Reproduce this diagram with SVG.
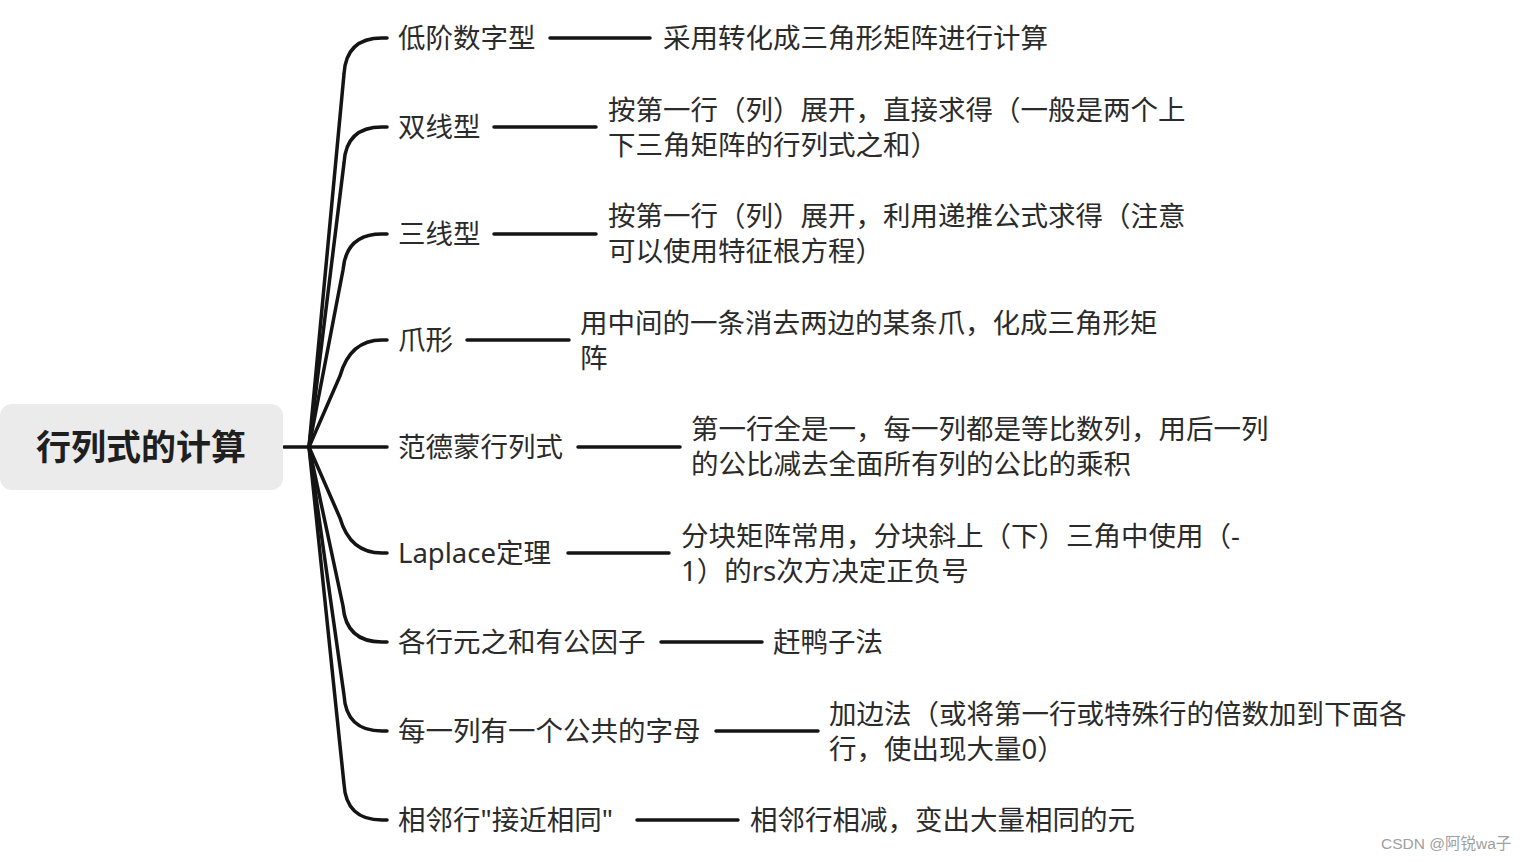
<svg xmlns="http://www.w3.org/2000/svg" width="1529" height="862" viewBox="0 0 1529 862">
<style>
.t{font-family:"Noto Sans","Noto Sans CJK SC",sans-serif;font-size:27.5px;fill:#2b2b2b}
.r{font-family:"Noto Sans CJK SC",sans-serif;font-size:35px;font-weight:bold;fill:#1f1f1f}
.c{fill:none;stroke:#141414;stroke-width:3.5;stroke-linecap:round}
.w{font-family:"Liberation Sans","Noto Sans CJK SC",sans-serif;font-size:15.5px;fill:#a0a0a0}
</style>
<rect width="1529" height="862" fill="#ffffff"/>
<g id="connectors">
<path class="c" d="M284,447 H309"/>
<path class="c" d="M309,447 L344,74 Q346,38 382,38 H387"/>
<path class="c" d="M309,447 L344,163 Q346,127 382,127 H387"/>
<path class="c" d="M309,447 L343,270 Q346,234 382,234 H387"/>
<path class="c" d="M309,447 L340,376 Q350,340 382,340 H387"/>
<path class="c" d="M309,447 H387"/>
<path class="c" d="M309,447 L340,518 Q350,553 382,553 H387"/>
<path class="c" d="M309,447 L343,606 Q346,642 382,642 H387"/>
<path class="c" d="M309,447 L344,695 Q346,731 382,731 H387"/>
<path class="c" d="M309,447 L344,784 Q346,820 382,820 H387"/>
<path class="c" d="M550,38 H650"/>
<path class="c" d="M494,127 H596"/>
<path class="c" d="M494,234 H596"/>
<path class="c" d="M467,340 H569"/>
<path class="c" d="M578,447 H680"/>
<path class="c" d="M568,553 H669"/>
<path class="c" d="M661,642 H762"/>
<path class="c" d="M716,731 H818"/>
<path class="c" d="M637,820 H738"/>
</g>
<g id="root">
<rect x="0" y="404" width="283" height="86" rx="12" fill="#ebebeb"/>
<text class="r" x="141" y="460" text-anchor="middle">行列式的计算</text>
</g>
<g id="n1"><text class="t" x="398" y="48">低阶数字型</text></g>
<g id="n1a"><text class="t" x="663" y="48">采用转化成三角形矩阵进行计算</text></g>
<g id="n2"><text class="t" x="398" y="137">双线型</text></g>
<g id="n2a"><text class="t" x="608" y="120">按第一行（列）展开，直接求得（一般是两个上</text><text class="t" x="608" y="155">下三角矩阵的行列式之和）</text></g>
<g id="n3"><text class="t" x="398" y="244">三线型</text></g>
<g id="n3a"><text class="t" x="608" y="226">按第一行（列）展开，利用递推公式求得（注意</text><text class="t" x="608" y="261">可以使用特征根方程）</text></g>
<g id="n4"><text class="t" x="398" y="350">爪形</text></g>
<g id="n4a"><text class="t" x="580" y="333">用中间的一条消去两边的某条爪，化成三角形矩</text><text class="t" x="580" y="368">阵</text></g>
<g id="n5"><text class="t" x="398" y="457">范德蒙行列式</text></g>
<g id="n5a"><text class="t" x="691" y="439">第一行全是一，每一列都是等比数列，用后一列</text><text class="t" x="691" y="474">的公比减去全面所有列的公比的乘积</text></g>
<g id="n6"><text class="t" x="398" y="563">Laplace定理</text></g>
<g id="n6a"><text class="t" x="681" y="546">分块矩阵常用，分块斜上（下）三角中使用（-</text><text class="t" x="681" y="581">1）的rs次方决定正负号</text></g>
<g id="n7"><text class="t" x="398" y="652">各行元之和有公因子</text></g>
<g id="n7a"><text class="t" x="773" y="652">赶鸭子法</text></g>
<g id="n8"><text class="t" x="398" y="741">每一列有一个公共的字母</text></g>
<g id="n8a"><text class="t" x="829" y="724">加边法（或将第一行或特殊行的倍数加到下面各</text><text class="t" x="829" y="759">行，使出现大量0）</text></g>
<g id="n9"><text class="t" x="398" y="830">相邻行"接近相同"</text></g>
<g id="n9a"><text class="t" x="750" y="830">相邻行相减，变出大量相同的元</text></g>
<text class="w" x="1381" y="849">CSDN @阿锐wa子</text>
</svg>
